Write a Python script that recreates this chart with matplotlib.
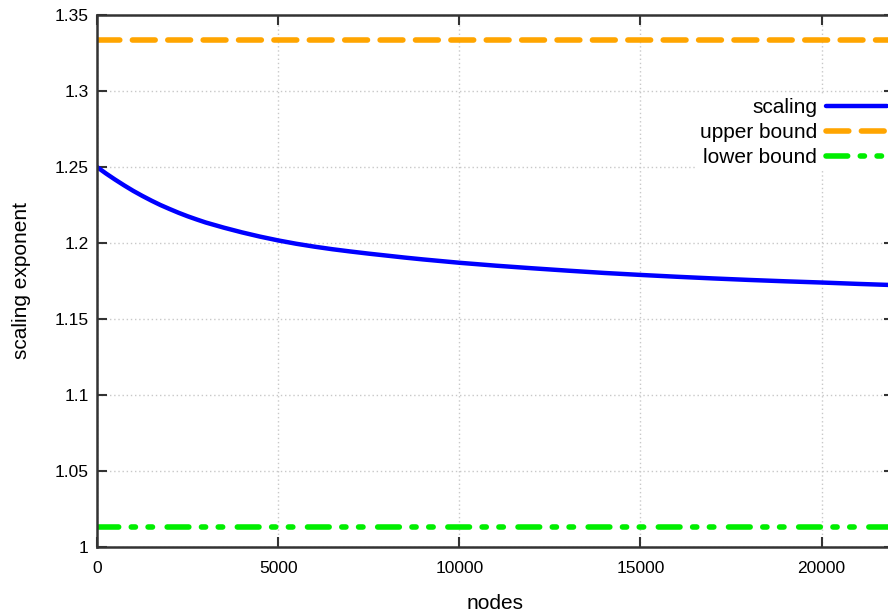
import numpy as np
import matplotlib
matplotlib.use('Agg')
import matplotlib.pyplot as plt
from matplotlib.ticker import FuncFormatter, MultipleLocator

# values
nodes = [0, 250, 500, 750, 1000, 1250, 1500, 1750, 2000, 2250, 2500, 2750,
         3000, 3500, 4000, 4500, 5000, 5500, 6000, 6500, 7000, 7500, 8000,
         8500, 9000, 9500, 10000, 11000, 12000, 13000, 14000, 15000, 16000,
         17000, 18000, 19000, 20000, 21000, 22000]
scaling = [1.2500, 1.2457, 1.2417, 1.2379, 1.2343, 1.2310, 1.2279, 1.2250,
           1.2224, 1.2199, 1.2176, 1.2155, 1.2135, 1.2101, 1.2070, 1.2042,
           1.2017, 1.1995, 1.1976, 1.1959, 1.1944, 1.1930, 1.1917, 1.1904,
           1.1892, 1.1881, 1.1870, 1.1851, 1.1834, 1.1818, 1.1803, 1.1790,
           1.1778, 1.1767, 1.1757, 1.1748, 1.1740, 1.1731, 1.1723]
upper_bound = 4 / 3
lower_bound = 1.013

x_range = (0, 22000)
y_range = (1.0, 1.35)


def main():
    plt.rcParams['font.family'] = ['Liberation Sans', 'DejaVu Sans']
    fig = plt.figure(figsize=(8.88, 6.14), dpi=100)
    ax = fig.add_axes([97 / 888, 1 - 547 / 614, 797 / 888, 532 / 614])

    ax.plot(nodes, scaling, color='#0000ff', lw=3.2, label='scaling',
            solid_capstyle='round', solid_joinstyle='round')
    ax.plot(x_range, [upper_bound] * 2, color='#ffa500', lw=4,
            linestyle=(0, (4.1, 2.27)), dash_capstyle='round',
            label='upper bound')
    ax.plot(x_range, [lower_bound] * 2, color='#00ee00', lw=4,
            linestyle=(0, (3.9, 2.27, 0.75, 2.27, 0.8, 2.64)),
            dash_capstyle='round', label='lower bound')

    ax.set_xlim(*x_range)
    ax.set_ylim(*y_range)
    ax.xaxis.set_major_locator(MultipleLocator(5000))
    ax.yaxis.set_major_locator(MultipleLocator(0.05))
    ax.yaxis.set_major_formatter(FuncFormatter(lambda v, p: '%g' % round(v, 3)))

    ax.grid(True, color='#c8c8c8', linestyle=(0, (1, 2)), lw=1)
    ax.tick_params(direction='in', length=7, width=1.5, colors='#333333',
                   labelcolor='black', labelsize=12.5, top=True, right=True)
    ax.tick_params(axis='x', pad=10)
    ax.tick_params(axis='y', pad=6)
    for s in ax.spines.values():
        s.set_color('#333333')
        s.set_linewidth(1.8)

    ax.set_xlabel('nodes', fontsize=15, labelpad=13)
    ax.set_ylabel('scaling exponent', fontsize=15, labelpad=17)

    leg = ax.legend(loc='upper right', bbox_to_anchor=(891 / 888, 1 - 94 / 614),
                    bbox_transform=fig.transFigure, markerfirst=False,
                    fontsize=15, handlelength=2.9, handletextpad=0.45,
                    labelspacing=0.28, borderpad=0.2, borderaxespad=0,
                    frameon=True, fancybox=False, framealpha=1)
    leg.get_frame().set_edgecolor('none')
    leg.get_frame().set_facecolor('white')

    fig.savefig('out.png', dpi=100)


if __name__ == '__main__':
    main()
